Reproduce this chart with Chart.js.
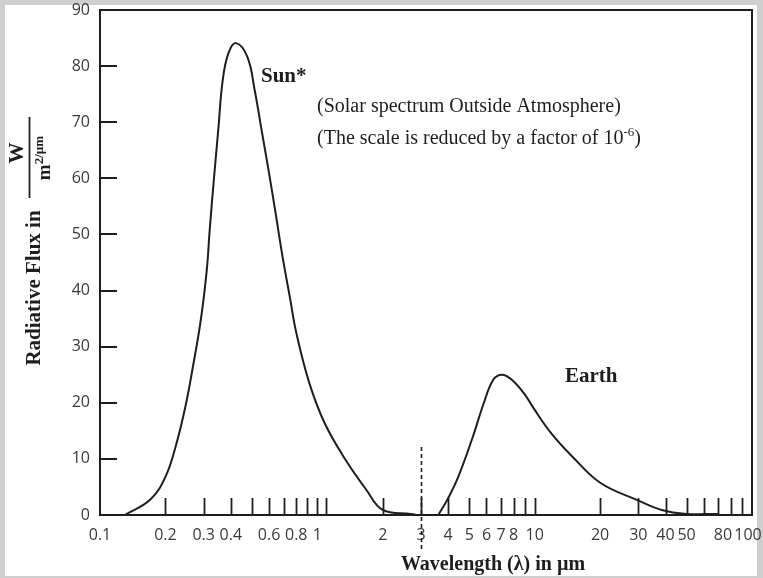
<!DOCTYPE html>
<html><head><meta charset="utf-8">
<script src="https://cdn.jsdelivr.net/npm/chart.js@4.4.1/dist/chart.umd.min.js"></script>
<style>html,body{margin:0;padding:0;background:#cfcfcf;}#wrap{width:763px;height:578px;}</style>
</head><body><div id="wrap"><canvas id="c" width="763" height="578"></canvas></div>
<script>
// Sun spectrum (scaled by 1e-6), wavelength in µm
const sunWavelength = [0.13, 0.17, 0.20, 0.225, 0.248, 0.267, 0.291, 0.31, 0.32, 0.334, 0.35, 0.367, 0.39, 0.423, 0.477, 0.515, 0.554, 0.596, 0.639, 0.692, 0.75, 0.80, 0.919, 1.08, 1.35, 1.68, 2.0, 2.7, 2.85];
const sunFlux       = [0,    2.7,  6.8,  12.8,  19.6,  26.2,  34.8,  43.7, 51.0, 59.7,  68.6, 77.5,  82.3, 84.1,  81.6,  75.7,  68.6,  61.5,  54.4,  46.0,  38.5, 32.5, 23.5,  16.4, 9.8,  4.5,  0.9, 0.2, 0];
// Earth spectrum
const earthWavelength = [3.6, 3.96, 4.45, 5.19, 5.84, 6.45, 7.07, 7.85, 9.0, 9.9, 11.9, 15.0, 20.1, 29.5, 38.4, 50, 70];
const earthFlux       = [0,   2.7,  6.8,  13.9, 20.0, 24.1, 25.0, 24.1, 21.5, 19.0, 14.6, 10.3, 5.7, 2.7, 0.9, 0.2, 0.2];
// Axis ticks
const xTickValues = [0.1,0.2,0.3,0.4,0.5,0.6,0.7,0.8,0.9,1,1.1,2,3,4,5,6,7,8,9,10,20,30,40,50,60,70,80,90,100];
const xLabeledValues = [0.1,0.2,0.3,0.4,0.6,0.8,1,2,3,4,5,6,7,8,10,20,30,40,50,80,100];
const xTickLabels = ['0.1','0.2','0.3','0.4','0.6','0.8','1','2','3','4','5','6','7','8','10','20','30','40','50','80','100'];
const yTickValues = [0,10,20,30,40,50,60,70,80,90];
const dividerWavelength = 3;
const dividerTopFlux = 12.1;

const INK = '#1e1e1e';
const SERIF = '"Liberation Serif", "Times New Roman", serif';

const decor = {
  id: 'decor',
  beforeDraw(chart) {
    const c = chart.ctx; c.save();
    c.fillStyle = '#cfcfcf'; c.fillRect(0, 0, chart.width, chart.height);
    c.fillStyle = '#ffffff'; c.fillRect(5, 5, 752, 571);
    c.restore();
  },
  afterDraw(chart) {
    const c = chart.ctx, a = chart.chartArea, xs = chart.scales.x, ys = chart.scales.y;
    c.save();
    c.strokeStyle = INK; c.lineWidth = 2;
    c.strokeRect(a.left, a.top, a.right - a.left, a.bottom - a.top);
    // y tick marks (inward)
    yTickValues.forEach(v => {
      if (v <= ys.min || v >= ys.max) return;
      const y = Math.round(ys.getPixelForValue(v));
      c.beginPath(); c.moveTo(a.left, y); c.lineTo(a.left + 17, y); c.stroke();
    });
    // x tick marks (inward)
    c.lineWidth = 1.8;
    xs.ticks.forEach(t => {
      if (t.value <= xs.min || t.value >= xs.max) return;
      const x = Math.round(xs.getPixelForValue(t.value)) + 0.5;
      c.beginPath(); c.moveTo(x, a.bottom); c.lineTo(x, a.bottom - 17); c.stroke();
    });
    // dashed divider
    const dx = Math.round(xs.getPixelForValue(dividerWavelength)) + 0.5;
    c.setLineDash([4, 3]); c.lineWidth = 1.6;
    c.beginPath(); c.moveTo(dx, ys.getPixelForValue(dividerTopFlux)); c.lineTo(dx, a.bottom + 37); c.stroke();
    c.setLineDash([]);
    // annotations
    c.fillStyle = INK; c.textBaseline = 'alphabetic'; c.textAlign = 'left';
    c.font = 'bold 21px ' + SERIF;
    c.fillText('Sun*', 261, 82);
    c.fillText('Earth', 565, 382);
    c.font = '20px ' + SERIF;
    c.fillText('(Solar spectrum Outside Atmosphere)', 317, 112);
    const l2 = '(The scale is reduced by a factor of 10';
    c.fillText(l2, 317, 144);
    let w = c.measureText(l2).width;
    c.font = '13px ' + SERIF;
    c.fillText('-6', 317 + w, 136);
    const w2 = c.measureText('-6').width;
    c.font = '20px ' + SERIF;
    c.fillText(')', 317 + w + w2, 144);
    // x title
    c.font = 'bold 20px ' + SERIF; c.textAlign = 'center';
    c.fillText('Wavelength (\u03bb) in \u00b5m', 493, 570);
    // y title
    c.save(); c.translate(40, 288); c.rotate(-Math.PI / 2);
    c.font = 'bold 21px ' + SERIF; c.textAlign = 'center';
    c.fillText('Radiative Flux in', 0, 0);
    c.restore();
    c.save(); c.translate(23, 153); c.rotate(-Math.PI / 2);
    c.font = 'bold 21px ' + SERIF; c.textAlign = 'center';
    c.fillText('W', 0, 0);
    c.restore();
    c.lineWidth = 1.8;
    c.beginPath(); c.moveTo(29.5, 117); c.lineTo(29.5, 198); c.stroke();
    c.save(); c.translate(50, 158); c.rotate(-Math.PI / 2);
    c.font = 'bold 19px ' + SERIF; c.textAlign = 'left';
    const mw = c.measureText('m').width;
    c.font = 'bold 13px ' + SERIF;
    const sw = c.measureText('2/\u00b5m').width;
    const start = -(mw + sw) / 2;
    c.font = 'bold 19px ' + SERIF; c.fillText('m', start, 0);
    c.font = 'bold 13px ' + SERIF; c.fillText('2/\u00b5m', start + mw, -7);
    c.restore();
    c.restore();
  }
};

const lineStyle = { borderColor: INK, borderWidth: 2, pointRadius: 0, showLine: true, fill: false, tension: 0.4 };

new Chart(document.getElementById('c'), {
  type: 'scatter',
  data: {
    datasets: [
      Object.assign({ label: 'Sun', data: sunWavelength.map((x, i) => ({ x, y: sunFlux[i] })) }, lineStyle),
      Object.assign({ label: 'Earth', data: earthWavelength.map((x, i) => ({ x, y: earthFlux[i] })) }, lineStyle)
    ]
  },
  options: {
    responsive: false, animation: false, devicePixelRatio: 1,
    layout: { padding: { top: 10, right: 11, left: 0, bottom: 0 } },
    plugins: { legend: { display: false }, tooltip: { enabled: false } },
    scales: {
      x: {
        type: 'logarithmic', min: 0.1, max: 100, position: 'bottom',
        afterBuildTicks: s => { s.ticks = xTickValues.map(v => ({ value: v })); },
        afterFit: s => { s.height = 63; s.paddingLeft = 0; s.paddingRight = 0; },
        grid: { display: false }, border: { display: false },
        ticks: {
          autoSkip: false, maxRotation: 0, minRotation: 0, padding: 3, color: '#3a3a3a',
          font: { family: '"Open Sans", sans-serif', size: 16 },
          callback: v => {
            const i = xLabeledValues.findIndex(l => Math.abs(l - v) < 1e-9);
            if (i < 0) return '';
            const s = xTickLabels[i];
            // keep the two crowded right-hand labels apart
            if (i === xTickLabels.length - 2) return s + '\u2003';
            if (i === xTickLabels.length - 1) return s + '\u2002';
            return s;
          }
        }
      },
      y: {
        type: 'linear', min: 0, max: 90,
        afterBuildTicks: s => { s.ticks = yTickValues.map(v => ({ value: v })); },
        afterFit: s => { s.width = 100; s.paddingTop = 0; s.paddingBottom = 0; },
        grid: { display: false, drawTicks: false }, border: { display: false },
        ticks: { padding: 10, color: '#3a3a3a', font: { family: '"Open Sans", sans-serif', size: 16 } }
      }
    }
  },
  plugins: [decor]
});
</script></body></html>
